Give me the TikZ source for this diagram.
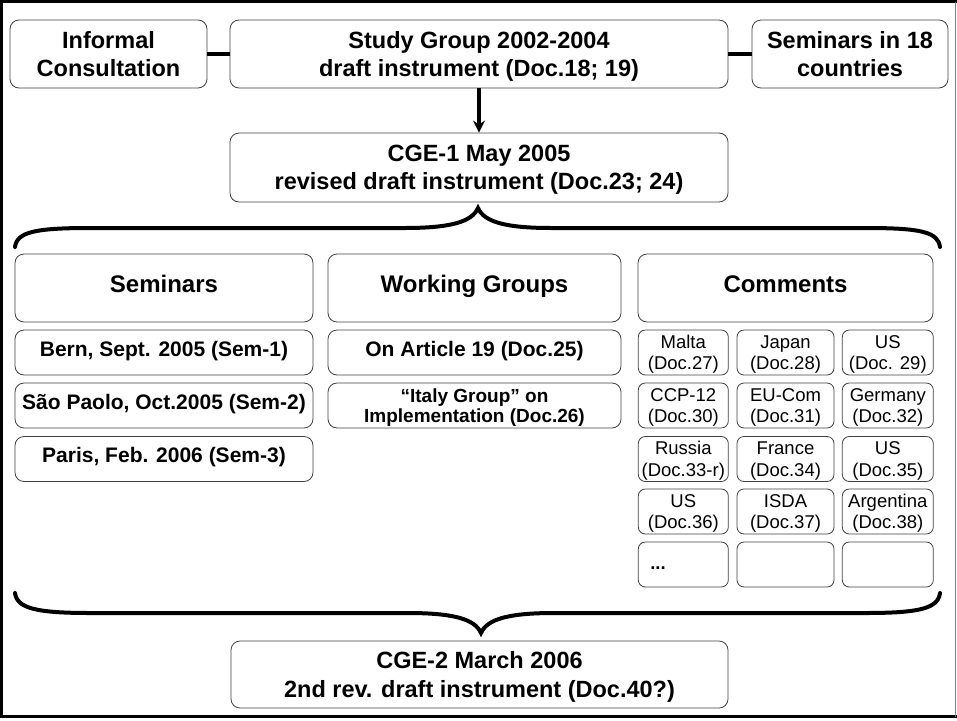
\documentclass[tikz,border=0pt]{standalone}
\usepackage{fontspec}
\setmainfont{Liberation Sans}
\usetikzlibrary{arrows.meta}
\tikzset{stage/.style={draw=black!75,line width=0.8pt,rounded corners=9pt,align=center,inner sep=0pt,
    text depth=0pt,font=\fontsize{23.5}{28.5}\selectfont\bfseries},
  head/.style={stage,text height=0.85em,font=\fontsize{24}{28}\selectfont\bfseries},
  entry/.style={stage,minimum height=45,text height=0.72em,font=\fontsize{21}{24}\selectfont\bfseries},
  reply/.style={draw=black!75,line width=0.8pt,rounded corners=7pt,align=center,inner sep=0pt,
    minimum height=45,text depth=0pt,font=\fontsize{18.5}{21.5}\selectfont},
  curly/.style={line width=4pt,line cap=round}}

\begin{document}
\begin{tikzpicture}[x=1pt,y=-1pt,>={Stealth[length=12pt,width=12pt]}]
  \useasboundingbox (0,0) rectangle (957,720);
  \draw[line width=3pt] (957,1.5) -- (1.5,1.5) -- (1.5,716.5) -- (957,716.5);
  \draw[black!50,line width=1pt] (955,1.5) -- (955,716.5);

  \node[stage,minimum width=197,minimum height=68] (inf) at (108.5,54) {Informal\\Consultation};
  \node[stage,minimum width=498,minimum height=68] (sg) at (479,54) {Study Group 2002-2004\\draft instrument (Doc.18; 19)};
  \node[stage,minimum width=196,minimum height=68] (sem18) at (850,54) {Seminars in 18\\countries};
  \node[stage,minimum width=498,minimum height=69] (cge1) at (479,167.5) {CGE-1 May 2005\\revised draft instrument (Doc.23; 24)};

  \draw[line width=4pt] (inf) -- (sg);
  \draw[line width=4pt] (sg) -- (sem18);
  \draw[->,line width=3.2pt] (sg) -- (cge1);

  % upper brace
  \draw[curly] (15,247) .. controls (17,232) and (35,228) .. (90,228) -- (405,228)
    .. controls (450,228) and (472,222) .. (478,208) .. controls (484,222) and (506,228) .. (551,228)
    -- (866,228) .. controls (921,228) and (938,232) .. (940,247);

  \node[head,minimum width=298,minimum height=68] (hsem) at (164,288) {Seminars};
  \node[head,minimum width=293,minimum height=68] (hwg) at (474.5,288) {Working Groups};
  \node[head,minimum width=295,minimum height=68] (hcom) at (785.5,288) {Comments};

  \node[entry,minimum width=298] (bern) at (164,352.5) {Bern, Sept. 2005 (Sem-1)};
  \node[entry,minimum width=298] (sao) at (164,405.5) {São Paolo, Oct.2005 (Sem-2)};
  \node[entry,minimum width=298] (paris) at (164,459) {Paris, Feb. 2006 (Sem-3)};

  \node[entry,minimum width=293] (art) at (474.5,352.5) {On Article 19 (Doc.25)};
  \node[stage,minimum width=293,minimum height=45,font=\fontsize{19}{20}\selectfont\bfseries] (italy) at (474.5,405.5)
    {“Italy Group” on\\Implementation (Doc.26)};

  \node[reply,minimum width=90] (c11) at (683.3,352.5) {Malta\\(Doc.27)};
  \node[reply,minimum width=97] (c12) at (785.5,352.5) {Japan\\(Doc.28)};
  \node[reply,minimum width=91] (c13) at (887.8,352.5) {US\\(Doc. 29)};
  \node[reply,minimum width=90] (c21) at (683.3,405.5) {CCP-12\\(Doc.30)};
  \node[reply,minimum width=97] (c22) at (785.5,405.5) {EU-Com\\(Doc.31)};
  \node[reply,minimum width=91] (c23) at (887.8,405.5) {Germany\\(Doc.32)};
  \node[reply,minimum width=90] (c31) at (683.3,459) {Russia\\(Doc.33-r)};
  \node[reply,minimum width=97] (c32) at (785.5,459) {France\\(Doc.34)};
  \node[reply,minimum width=91] (c33) at (887.8,459) {US\\(Doc.35)};
  \node[reply,minimum width=90] (c41) at (683.3,511.5) {US\\(Doc.36)};
  \node[reply,minimum width=97] (c42) at (785.5,511.5) {ISDA\\(Doc.37)};
  \node[reply,minimum width=91] (c43) at (887.8,511.5) {Argentina\\(Doc.38)};
  \node[reply,text width=66,align=left,inner xsep=12,text height=1em,
    font=\fontsize{18.5}{21.5}\selectfont\bfseries] (c51) at (683.3,564.5) {...};
  \node[reply,minimum width=97] (c52) at (785.5,564.5) {};
  \node[reply,minimum width=91] (c53) at (887.8,564.5) {};

  % lower brace
  \draw[curly] (15,593) .. controls (17,608) and (35,613) .. (90,613) -- (408,613)
    .. controls (453,613) and (475,619) .. (481,633) .. controls (487,619) and (509,613) .. (554,613)
    -- (866,613) .. controls (921,613) and (938,608) .. (940,593);

  \node[stage,minimum width=497,minimum height=67] (cge2) at (479.5,674.5) {CGE-2 March 2006\\2nd rev. draft instrument (Doc.40?)};
\end{tikzpicture}
\end{document}
